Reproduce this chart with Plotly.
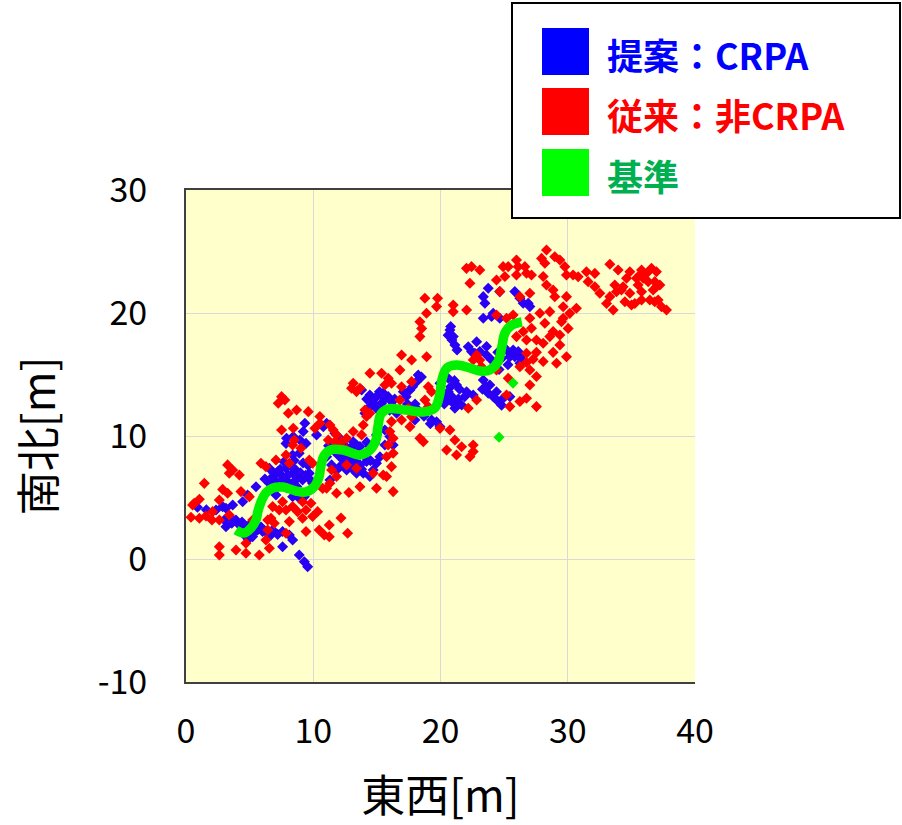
import plotly.graph_objects as go

# ---------------- data ----------------
blue_points = [
    (7.86, 9.40), (9.43, 9.40), (8.38, 8.45), (8.90, 8.59), (6.55, 7.37), (7.20, 7.10), (7.86, 7.37),
    (8.38, 6.97), (8.64, 7.24), (6.55, 6.15), (6.81, 6.69), (7.59, 6.42), (8.12, 6.15), (9.16, 6.42),
    (9.69, 6.97), (9.95, 6.15), (5.50, 5.88), (4.84, 5.20), (4.45, 4.66), (3.67, 4.39), (2.88, 4.26),
    (2.36, 3.99), (3.14, 4.12), (3.01, 3.17), (3.14, 2.63), (3.93, 3.17), (4.19, 2.77), (4.58, 2.77),
    (4.84, 2.50), (5.24, 2.09), (5.63, 2.36), (6.02, 2.23), (6.68, 1.95), (6.81, 2.36), (7.59, 2.23),
    (8.12, 1.95), (8.38, 1.55), (7.59, 1.00), (8.90, 0.32), (9.30, -0.22), (9.56, -0.63), (7.07, 5.20),
    (8.38, 5.07), (8.90, 4.93), (9.30, 5.07), (5.24, 1.82), (4.71, 1.82), (0.90, 4.20), (1.60, 4.00),
    (7.40, 7.30), (8.00, 6.80), (9.00, 7.00), (9.60, 7.60), (7.00, 6.40), (8.60, 6.40), (9.20, 7.80),
    (6.90, 7.00), (7.50, 6.80), (8.20, 7.60), (8.80, 6.70), (9.40, 6.80), (7.20, 5.90), (7.90, 5.80),
    (8.70, 5.90), (9.70, 6.50), (6.20, 6.50), (7.70, 7.90), (8.50, 8.00),
    (3.60, 2.90), (4.40, 3.00), (5.00, 2.80), (5.90, 2.60), (6.40, 2.10), (7.20, 2.00), (3.40, 3.50),
    (4.90, 1.60),
    (13.80, 13.74), (14.45, 13.34), (14.71, 12.93), (14.97, 13.20), (15.89, 13.20), (16.15, 12.80),
    (15.37, 12.66), (16.28, 12.39), (16.55, 11.85), (14.45, 12.39), (14.06, 11.85), (11.05, 11.03),
    (10.79, 10.76), (9.34, 11.03), (9.21, 10.36), (8.43, 9.95), (7.90, 9.81), (8.95, 9.68), (10.26, 10.09),
    (11.70, 10.22), (12.09, 9.81), (13.14, 9.54), (13.40, 9.27), (13.67, 9.14), (14.45, 9.14), (14.84, 9.41),
    (14.97, 10.09), (16.02, 9.95), (16.28, 9.27), (15.24, 8.32), (14.97, 7.78), (14.71, 7.24), (14.19, 7.92),
    (13.67, 7.65), (12.88, 7.78), (12.36, 8.05), (12.09, 7.51), (12.62, 7.24), (13.40, 6.97), (13.93, 6.97),
    (14.45, 6.70), (11.05, 8.32), (11.44, 7.65), (11.31, 6.43), (15.63, 9.27), (15.63, 10.49),
    (12.80, 8.40), (13.20, 8.00), (11.80, 7.20), (12.40, 9.30), (14.00, 8.40), (15.20, 13.60), (14.20, 13.00),
    (11.60, 8.80), (12.00, 8.40), (12.60, 8.60), (13.00, 9.10), (13.50, 8.60), (14.20, 9.50), (11.90, 9.60),
    (12.40, 7.70), (13.00, 7.40), (13.80, 7.30), (14.50, 8.00), (11.20, 9.20),
    (14.80, 12.60), (15.60, 13.00), (15.00, 12.20), (16.00, 12.10), (15.50, 13.50), (16.40, 13.00),
    (20.74, 18.62), (21.00, 18.08), (21.13, 17.40), (22.18, 17.26), (22.44, 16.86), (22.84, 17.67),
    (22.70, 16.72), (18.25, 14.96), (18.12, 14.42), (17.60, 13.74), (17.08, 13.60), (17.60, 12.11),
    (18.25, 12.11), (17.99, 11.30), (19.30, 11.30), (19.69, 11.16), (19.96, 10.76), (20.61, 13.60),
    (20.48, 12.93), (21.00, 12.66), (21.13, 12.25), (21.66, 12.52), (22.05, 13.60), (22.57, 13.33),
    (21.26, 14.15), (20.61, 14.69), (19.96, 14.28), (20.60, 18.20), (20.90, 17.80), (21.30, 17.00),
    (20.80, 18.90), (20.90, 13.20), (21.40, 13.00), (20.30, 12.60),
    (17.30, 13.20), (17.80, 14.00), (18.50, 14.80), (18.00, 12.60), (18.70, 11.60), (19.20, 11.00),
    (17.40, 12.60), (20.80, 14.00), (21.50, 13.80), (21.90, 13.20), (20.40, 13.30), (21.10, 14.50),
    (23.75, 22.01), (24.66, 21.74), (25.84, 21.74), (26.24, 21.20), (26.50, 20.79), (26.89, 20.79),
    (27.02, 20.52), (23.36, 21.33), (23.49, 20.79), (24.14, 19.98), (24.01, 19.71), (23.36, 19.57),
    (24.66, 19.57), (23.09, 16.86), (23.62, 17.27), (23.62, 16.59), (24.01, 16.18), (24.14, 15.64),
    (25.19, 16.99), (25.71, 16.99), (26.11, 16.86), (26.24, 15.91), (25.45, 16.45), (25.84, 16.45),
    (26.24, 16.45), (23.36, 14.56), (23.88, 14.15), (23.75, 13.47), (24.14, 13.20), (24.53, 12.80),
    (24.93, 13.07), (25.45, 13.20),
    (24.50, 16.80), (24.80, 16.30), (25.00, 17.20), (25.30, 15.80), (26.40, 16.20), (24.60, 15.40),
    (23.60, 14.00), (24.40, 13.60), (24.80, 12.50), (23.30, 13.80),
]

red_points = [
    (3.27, 7.65), (3.40, 6.97), (3.67, 7.24), (4.19, 6.83), (1.44, 6.15), (2.88, 5.66), (3.27, 5.34),
    (4.32, 5.48), (4.98, 5.07), (1.05, 4.86), (0.65, 4.53), (0.52, 4.39), (2.62, 4.80), (2.09, 3.85),
    (0.39, 3.39), (1.05, 3.31), (1.57, 3.50), (2.04, 3.17), (2.62, 3.17), (3.40, 3.57), (5.89, 7.78),
    (6.28, 7.51), (7.07, 8.05), (7.86, 8.45), (8.12, 7.78), (8.38, 9.27), (9.03, 9.00), (8.51, 9.68),
    (9.69, 8.05), (9.95, 7.78), (6.42, 3.17), (6.68, 3.31), (6.94, 2.90), (6.42, 2.36), (7.59, 4.66),
    (7.86, 3.99), (8.38, 4.26), (8.77, 3.85), (9.43, 3.99), (9.95, 3.45), (9.43, 2.23), (10.47, 2.36),
    (10.87, 1.95), (8.12, 3.04), (6.81, 4.26), (5.24, 3.17), (4.71, 1.28), (3.93, 0.73), (4.71, 0.46),
    (2.62, 1.00), (2.62, 0.32), (5.76, 0.32), (6.55, 0.87), (7.86, 2.09), (6.28, 1.55), (9.16, 4.66),
    (10.74, 5.74), (9.82, 4.53), (10.34, 3.85), (7.33, 3.99), (9.16, 3.31),
    (11.26, 2.76), (12.70, 2.09), (12.18, 3.33), (11.26, 1.81), (12.80, 5.40),
    (14.45, 15.10), (15.37, 15.10), (15.89, 14.69), (15.63, 14.15), (16.15, 14.29), (13.14, 14.29),
    (13.01, 13.88), (13.40, 13.61), (13.67, 13.88), (7.51, 13.20), (7.77, 12.93), (7.25, 12.66),
    (8.04, 11.85), (8.69, 12.12), (9.61, 11.98), (10.52, 11.58), (10.52, 11.03), (8.43, 10.63),
    (7.51, 10.49), (10.13, 10.63), (11.31, 10.90), (11.57, 10.49), (11.83, 10.09), (11.18, 9.68),
    (11.70, 9.54), (12.23, 9.54), (12.62, 9.81), (12.09, 9.27), (13.14, 10.36), (13.93, 10.90),
    (14.45, 11.85), (14.06, 12.12), (13.80, 10.09), (12.62, 8.87), (14.19, 11.58), (16.15, 11.17),
    (16.02, 10.36), (16.28, 9.81), (15.89, 9.27), (15.76, 8.32), (16.28, 8.59), (16.15, 7.51),
    (15.50, 6.83), (14.71, 6.97), (15.76, 6.70), (14.97, 5.75), (16.28, 5.48), (13.67, 5.88),
    (11.83, 6.70), (11.44, 7.24), (13.40, 7.38), (12.62, 7.65), (11.31, 6.16), (11.05, 5.75),
    (11.83, 5.34),
    (18.38, 19.29), (18.52, 18.75), (18.38, 18.08), (16.94, 16.58), (17.73, 16.18), (18.91, 16.45),
    (16.81, 15.36), (16.94, 14.01), (17.73, 14.42), (19.04, 14.01), (19.30, 13.60), (18.78, 12.93),
    (19.04, 12.38), (16.81, 12.93), (17.47, 12.25), (17.73, 11.57), (16.94, 11.30), (17.60, 10.76),
    (18.38, 9.81), (18.65, 9.54), (19.96, 10.62), (20.74, 10.49), (21.13, 9.67), (21.66, 9.13),
    (22.57, 8.73), (22.31, 8.32), (21.26, 8.45), (22.57, 9.27), (20.48, 8.86), (22.18, 12.25),
    (22.84, 12.93), (22.57, 16.18), (22.84, 16.58), (19.77, 21.20),
    (22.31, 22.42), (24.40, 22.69), (25.06, 22.96), (25.97, 23.09), (26.76, 23.23), (27.15, 23.09),
    (28.07, 22.96), (28.33, 22.28), (28.85, 21.87), (28.98, 21.33), (27.02, 21.60), (26.24, 21.33),
    (24.66, 21.74), (18.77, 21.20), (19.69, 20.52), (21.00, 20.65), (18.90, 19.98), (21.00, 20.11),
    (22.05, 20.25), (24.40, 19.84), (25.19, 19.57), (25.71, 19.84), (27.02, 19.57), (27.81, 19.98),
    (28.59, 20.11), (28.20, 19.16), (27.15, 18.76), (26.50, 18.49), (25.97, 18.08), (26.76, 17.81),
    (27.54, 17.81), (28.07, 17.54), (28.59, 18.08), (28.85, 18.49), (27.54, 16.80), (27.28, 16.25),
    (26.76, 15.98), (26.24, 15.64), (27.02, 15.37), (28.07, 16.05), (28.85, 16.80), (29.12, 15.91),
    (27.54, 14.83), (27.02, 14.15), (26.76, 13.07), (25.19, 13.34), (26.24, 12.80), (25.45, 12.39),
    (27.54, 12.39), (23.09, 16.18), (23.22, 15.64), (25.32, 14.69), (26.76, 16.72), (24.40, 15.37),
    (22.04, 23.63), (22.44, 23.77), (23.09, 23.49), (24.92, 23.77), (25.32, 23.77), (25.97, 24.31),
    (26.10, 23.77), (26.63, 23.77), (27.94, 24.44), (28.33, 25.12), (28.20, 24.04), (28.98, 24.58),
    (29.38, 24.31), (29.77, 23.77), (29.90, 23.09), (30.42, 23.09), (30.82, 22.95), (31.60, 22.55),
    (31.47, 23.36), (32.13, 23.22), (32.13, 22.14), (29.90, 21.33), (29.64, 20.51), (30.68, 20.38),
    (30.16, 19.97), (29.51, 19.29), (30.03, 18.75), (29.38, 18.21), (29.38, 17.40), (29.90, 16.45),
    (29.64, 19.57),
    (33.31, 23.96), (33.96, 23.49), (32.52, 21.60), (33.31, 21.33), (33.05, 20.78), (33.57, 20.24),
    (33.70, 22.27), (33.83, 21.73), (34.22, 21.87), (34.62, 22.82), (34.88, 23.36), (34.88, 21.60),
    (34.49, 20.92), (35.01, 20.65), (35.27, 20.78), (35.40, 22.82), (35.66, 23.09), (35.80, 23.49),
    (35.93, 22.82), (36.19, 23.22), (35.53, 22.27), (35.80, 21.73), (36.32, 22.55), (36.58, 23.63),
    (36.97, 23.36), (36.84, 22.55), (36.97, 22.14), (37.24, 22.27), (36.71, 21.87), (36.45, 21.06),
    (36.84, 20.92), (37.10, 21.06), (37.37, 20.51), (37.76, 20.24), (35.80, 21.06), (34.35, 22.14),
]

reference_path = [
    (3.93, 2.36), (4.56, 2.11), (5.11, 2.52), (5.50, 3.17), (5.66, 3.90), (5.89, 4.63), (6.28, 5.37),
    (6.83, 5.77), (7.62, 5.85), (8.64, 5.53), (9.43, 5.45), (10.05, 5.85), (10.45, 6.67), (10.60, 7.56),
    (10.84, 8.37), (11.31, 8.86), (12.33, 8.86), (13.67, 8.46), (14.45, 8.86), (14.93, 9.67), (15.08, 10.73),
    (15.32, 11.79), (15.87, 12.20), (17.28, 12.11), (18.62, 11.95), (19.56, 12.28), (19.95, 13.41),
    (20.11, 14.55), (20.50, 15.53), (21.29, 15.77), (22.31, 15.53), (23.10, 15.28), (23.88, 15.37),
    (24.51, 16.02), (24.82, 17.24), (25.06, 18.37), (25.61, 19.02), (26.39, 19.27),
]
reference_extra = [(24.6, 9.9), (25.7, 14.3)]

x_ticks = [0, 10, 20, 30, 40]
x_tick_text = ["0", "10", "20", "30", "40"]
y_ticks = [-10, 0, 10, 20, 30]
y_tick_text = ["-10", "0", "10", "20", "30"]
legend_labels = ["提案：CRPA", "従来：非CRPA", "基準"]
x_title = "東西[m]"
y_title = "南北[m]"

# ---------------- figure ----------------
BLUE = "#2A00F5"
RED = "#FF0000"
GREEN = "#00F000"
FONT = "Noto Sans CJK JP"
MS = 8.5

fig = go.Figure()
fig.add_trace(go.Scatter(
    x=[p[0] for p in blue_points], y=[p[1] for p in blue_points], mode="markers",
    marker=dict(symbol="diamond", size=MS, color=BLUE, line=dict(width=0)),
    name=legend_labels[0], showlegend=False))
fig.add_trace(go.Scatter(
    x=[p[0] for p in red_points], y=[p[1] for p in red_points], mode="markers",
    marker=dict(symbol="diamond", size=MS, color=RED, line=dict(width=0)),
    name=legend_labels[1], showlegend=False))
fig.add_trace(go.Scatter(
    x=[p[0] for p in reference_path], y=[p[1] for p in reference_path], mode="lines",
    line=dict(color=GREEN, width=9.5, shape="spline", smoothing=1.0),
    name=legend_labels[2], showlegend=False))
fig.add_trace(go.Scatter(
    x=[p[0] for p in reference_extra], y=[p[1] for p in reference_extra], mode="markers",
    marker=dict(symbol="diamond", size=MS, color=GREEN, line=dict(width=0)),
    showlegend=False, hoverinfo="skip"))

L, R, T, B = 186, 695, 190, 682
W, H = 902, 825
pw, ph = R - L, B - T


def px_x(px):
    return (px - L) / pw


def px_y(py):
    return (B - py) / ph


shapes = [
    dict(type="rect", xref="paper", yref="paper", x0=px_x(512), x1=px_x(900), y0=px_y(218), y1=px_y(3),
         fillcolor="white", line=dict(color="black", width=2), layer="above"),
]
annotations = []
sw_colors = ["#0000FF", "#FF0000", "#00FF00"]
txt_colors = ["#0000FF", "#FF0000", "#00B050"]
sw_tops = [28, 88, 149]
for lab, sc, tc, top in zip(legend_labels, sw_colors, txt_colors, sw_tops):
    shapes.append(dict(type="rect", xref="paper", yref="paper", x0=px_x(542), x1=px_x(589),
                       y0=px_y(top + 47), y1=px_y(top), fillcolor=sc, line=dict(width=0), layer="above"))
    annotations.append(dict(xref="paper", yref="paper", x=px_x(605), y=px_y(top + 26), text="<b>%s</b>" % lab,
                            showarrow=False, xanchor="left", yanchor="middle",
                            font=dict(family=FONT, size=36, color=tc)))

fig.update_layout(
    width=W, height=H,
    margin=dict(l=L, r=W - R, t=T, b=H - B, autoexpand=False),
    paper_bgcolor="white", plot_bgcolor="#FFFFCC",
    font=dict(family=FONT, color="black"),
    shapes=shapes, annotations=annotations,
    xaxis=dict(range=[0, 40], tickvals=x_ticks, ticktext=x_tick_text, showgrid=True, gridcolor="#D9D9D9",
               gridwidth=1, zeroline=False, showline=True, linecolor="#404040", linewidth=2, mirror=True,
               ticks="outside", ticklen=18, tickcolor="rgba(0,0,0,0)",
               tickfont=dict(size=34, family=FONT),
               title=dict(text=x_title, font=dict(size=44, family=FONT), standoff=30),
               automargin=False, fixedrange=True),
    yaxis=dict(range=[-10, 30], tickvals=y_ticks, ticktext=y_tick_text, showgrid=True, gridcolor="#D9D9D9",
               gridwidth=1, zeroline=False, showline=True, linecolor="#404040", linewidth=2,
               ticks="outside", ticklen=30, tickcolor="rgba(0,0,0,0)",
               tickfont=dict(size=34, family=FONT),
               title=dict(text=y_title, font=dict(size=44, family=FONT), standoff=28),
               automargin=False, fixedrange=True),
)

fig.write_html("out.html")
